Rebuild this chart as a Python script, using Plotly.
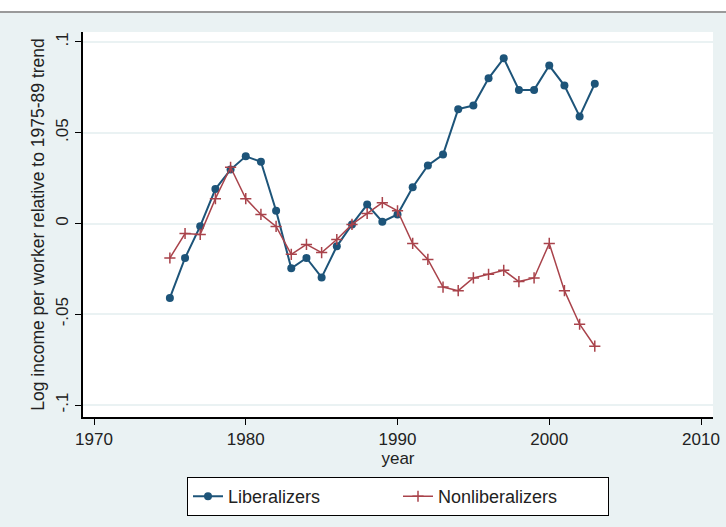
import plotly.graph_objects as go

years = list(range(1975, 2004))
liberalizers = [-0.041, -0.019, -0.0015, 0.019, 0.0297, 0.037, 0.034, 0.007, -0.0247, -0.019,
                -0.0297, -0.0126, -0.0005, 0.0104, 0.001, 0.005, 0.020, 0.032, 0.038, 0.063,
                0.065, 0.080, 0.091, 0.0736, 0.0736, 0.087, 0.076, 0.059, 0.077]
nonliberalizers = [-0.019, -0.0055, -0.006, 0.0137, 0.031, 0.0137, 0.005, -0.0016, -0.017, -0.0115,
                   -0.016, -0.0088, -0.0005, 0.0055, 0.0115, 0.007, -0.011, -0.0198, -0.035, -0.037,
                   -0.030, -0.028, -0.0258, -0.032, -0.030, -0.011, -0.037, -0.0555, -0.0676]
x_ticks = [1970, 1980, 1990, 2000, 2010]
y_ticks = [-0.1, -0.05, 0, 0.05, 0.1]
y_ticklabels = ["-.1", "-.05", "0", ".05", ".1"]

BLUE = "#1d5479"
RED = "#a9434b"
BG = "#eaf2f3"
FONT = "Liberation Sans"

fig = go.Figure()
fig.add_trace(go.Scatter(
    x=years, y=liberalizers, name="Liberalizers", mode="lines+markers",
    line=dict(color=BLUE, width=2), marker=dict(color=BLUE, size=8, symbol="circle")))
fig.add_trace(go.Scatter(
    x=years, y=nonliberalizers, name="Nonliberalizers", mode="lines+markers",
    line=dict(color=RED, width=1.5),
    marker=dict(color=RED, size=8, symbol="cross-thin", line=dict(color=RED, width=1.5))))

fig.update_layout(
    width=726, height=527,
    margin=dict(l=83, r=13, t=32, b=109),
    paper_bgcolor=BG, plot_bgcolor="white",
    font=dict(family=FONT, size=17, color="#222"),
    showlegend=True,
    legend=dict(orientation="h", x=0.5, xanchor="center", y=-0.153, yanchor="top",
                bgcolor="white", bordercolor="black", borderwidth=1,
                font=dict(size=18, family=FONT, color="#222"), entrywidth=165,
                itemsizing="trace"),
    xaxis=dict(range=[1969.275, 2010.79], tickvals=x_ticks, ticks="outside", ticklen=6,
               tickcolor="black", showline=True, linecolor="black", linewidth=1.5,
               showgrid=False, zeroline=False, tickfont=dict(size=17), automargin=False,
               title=dict(text="year", font=dict(size=17), standoff=0)),
    yaxis=dict(range=[-0.1066, 0.1055], tickvals=y_ticks, ticktext=y_ticklabels,
               ticks="outside", ticklen=6, tickcolor="black", tickangle=-90,
               showline=True, linecolor="black", linewidth=1.5,
               showgrid=True, gridcolor=BG, gridwidth=1.5, zeroline=False,
               tickfont=dict(size=17), automargin=False,
               title=dict(text="Log income per worker relative to 1975-89 trend",
                          font=dict(size=17.5), standoff=4)),
    shapes=[
        dict(type="rect", xref="paper", yref="paper", x0=-0.14, x1=1.03, y0=1.0518, y1=1.2,
             fillcolor="white", line=dict(width=0), layer="below"),
        dict(type="line", xref="paper", yref="paper", x0=-0.14, x1=1.03, y0=1.0518, y1=1.0518,
             line=dict(color="#9a9a9a", width=2)),
    ],
)

fig.write_html("out.html", config={"displayModeBar": False},
               post_script="document.body.style.margin='0';")
